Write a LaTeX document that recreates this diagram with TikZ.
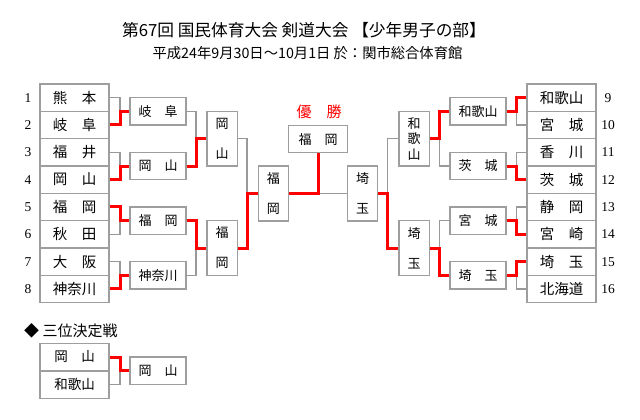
\documentclass[tikz,border=0pt]{standalone}
\usepackage{fontspec}
\newfontfamily\jp{Noto Sans CJK JP}
\newfontfamily\numfont{Liberation Serif}

\begin{document}
\begin{tikzpicture}[
  x=1pt, y=-1pt,
  every node/.style={
    inner sep=0pt, font=\jp
  },
  team/.style={
    draw=black!38, line width=1.5pt,
    minimum width=69pt, minimum height=27.33pt,
    font=\jp\fontsize{14.5}{18}\selectfont
  },
  winbox/.style={
    draw=black!38, line width=1.5pt,
    minimum width=56pt, minimum height=27.33pt,
    font=\jp\fontsize{13}{16}\selectfont
  },
  vbox/.style={
    draw=black!38, line width=1.5pt, align=center,
    minimum width=30.5pt, minimum height=54.67pt,
    font=\jp\fontsize{13}{15.5}\selectfont
  },
  seed/.style={font=\numfont\fontsize{13.5}{16}\selectfont},
  lose/.style={draw=black!40, line width=1.2pt},
  win/.style={draw=red, line width=3pt, line join=miter}
  ]
  \useasboundingbox (0,0) rectangle (640,420);

  \node[font=\jp\fontsize{16.7}{19}\selectfont] (title) at (304,30.5)
    {第67回 国民体育大会 剣道大会 【少年男子の部】};
  \node[font=\jp\fontsize{14.3}{17}\selectfont] (date) at (307.5,53.5)
    {平成24年9月30日～10月1日 於：関市総合体育館};

  \coordinate (cL1) at (120,0);
  \coordinate (cL2) at (196,0);
  \coordinate (cL3) at (247,0);
  \coordinate (cR1) at (516.7,0);
  \coordinate (cR2) at (439.3,0);
  \coordinate (cR3) at (387.7,0);

  \foreach \name [count=\k] in {熊　本,岐　阜,福　井,岡　山,福　岡,秋　田,大　阪,神奈川} {
    \node[team] (L\k) at (74.5,70.33+27.33*\k) {\name};
    \node[seed] (nL\k) at (28,70.33+27.33*\k) {\k};
  }
  \foreach \name [count=\k] in {和歌山,宮　城,香　川,茨　城,静　岡,宮　崎,埼　玉,北海道} {
    \pgfmathtruncatemacro\n{\k+8}
    \node[team] (R\k) at (561.5,70.33+27.33*\k) {\name};
    \node[seed] (nR\k) at (608,70.33+27.33*\k) {\n};
  }

  \foreach \name [count=\k] in {岐　阜,岡　山,福　岡,神奈川}
    \node[winbox] (LA\k) at (158,56.67+54.67*\k) {\name};
  \foreach \name [count=\k] in {和歌山,茨　城,宮　城,埼　玉}
    \node[winbox] (RA\k) at (478,56.67+54.67*\k) {\name};

  \node[vbox] (LB1) at (222,138.67) {岡\\[14.5pt]山};
  \node[vbox] (LB2) at (222,248) {福\\[14.5pt]岡};
  \node[vbox] (RB1) at (414,138.67) {和\\歌\\山};
  \node[vbox] (RB2) at (414,248) {埼\\[14.5pt]玉};

  \node[vbox, minimum width=30pt, minimum height=55pt] (LC) at (273.3,193.33) {福\\[14.5pt]岡};
  \node[vbox, minimum width=30pt, minimum height=55pt] (RC) at (362.7,193.33) {埼\\[14.5pt]玉};

  \node[winbox, minimum width=59.4pt, minimum height=27pt] (final) at (318,139.2) {福　岡};
  \node[text=red, font=\jp\fontsize{15}{18}\selectfont] (champ) at (319,111.5) {優　勝};

  \foreach \l/\w/\t in {1/2/1, 3/4/2, 6/5/3, 7/8/4} {
    \draw[lose] (L\l.east) -| (cL1 |- LA\t.west);
    \draw[win] (L\w.east) -| (cL1 |- LA\t.west) -- (LA\t.west);
  }
  \foreach \l/\w/\t in {1/2/1, 4/3/2} {
    \draw[lose] (LA\l.east) -| (cL2 |- LB\t.west);
    \draw[win] (LA\w.east) -| (cL2 |- LB\t.west) -- (LB\t.west);
  }
  \draw[lose] (LB1.east) -| (cL3 |- LC.west);
  \draw[win] (LB2.east) -| (cL3 |- LC.west) -- (LC.west);

  \foreach \l/\w/\t in {2/1/1, 3/4/2, 5/6/3, 8/7/4} {
    \draw[lose] (R\l.west) -| (cR1 |- RA\t.east);
    \draw[win] (R\w.west) -| (cR1 |- RA\t.east) -- (RA\t.east);
  }
  \foreach \l/\w/\t in {2/1/1, 3/4/2} {
    \draw[lose] (RA\l.west) -| (cR2 |- RB\t.east);
    \draw[win] (RA\w.west) -| (cR2 |- RB\t.east) -- (RB\t.east);
  }
  \draw[lose] (RB1.west) -| (cR3 |- RC.east);
  \draw[win] (RB2.west) -| (cR3 |- RC.east) -- (RC.east);

  \draw[lose] (RC.west) -- (final.south |- RC.west);
  \draw[win] (LC.east) -| (final.south);

  \node[anchor=west, font=\jp\fontsize{15}{18}\selectfont] (third) at (24,330.5) {◆ 三位決定戦};
  \node[team, minimum height=27.5pt, font=\jp\fontsize{13.5}{16}\selectfont] (T1) at (74.5,357) {岡　山};
  \node[team, minimum height=27.5pt, font=\jp\fontsize{13.5}{16}\selectfont] (T2) at (74.5,384.5) {和歌山};
  \node[winbox] (TW) at (158,370.8) {岡　山};
  \draw[lose] (T2.east) -| (cL1 |- TW.west);
  \draw[win] (T1.east) -| (cL1 |- TW.west) -- (TW.west);
\end{tikzpicture}
\end{document}
